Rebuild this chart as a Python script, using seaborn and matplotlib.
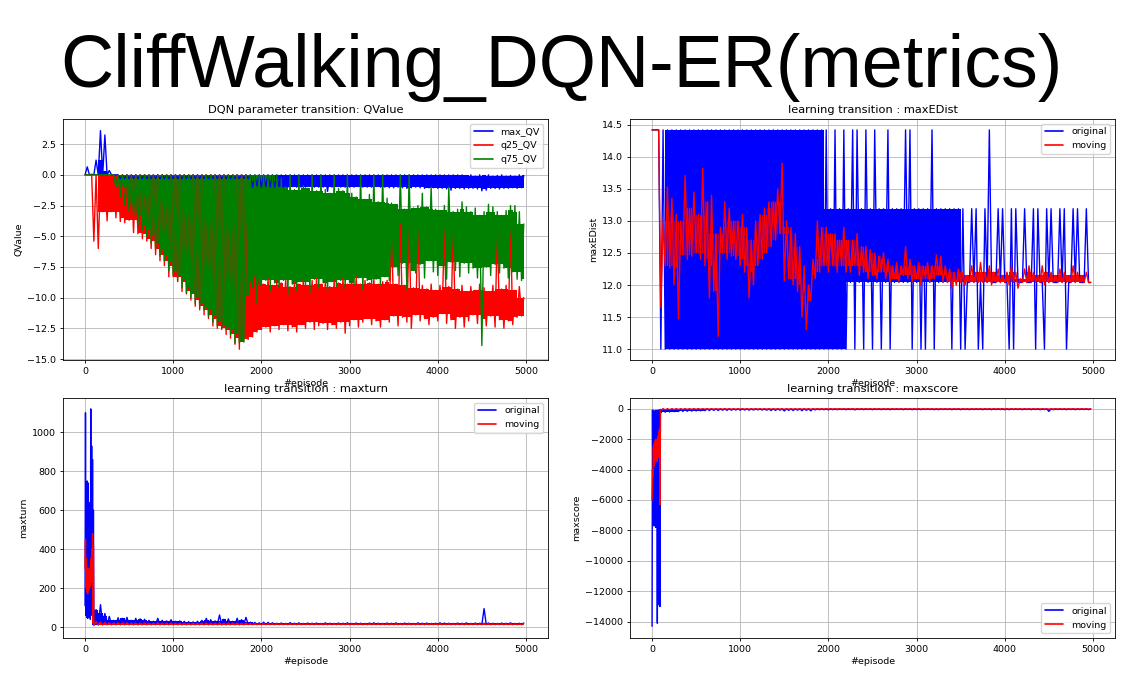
import numpy as np
import matplotlib
matplotlib.use("Agg")
import matplotlib.pyplot as plt
import seaborn as sns

OUT_PNG = "out.png"

# ---- QValue: per 50-episode bin, low / high of each series ----
qv_ep = np.arange(0, 5000, 50)
qv_max_lo = [0, 0, 0, 0, 0, 0, 0, 0, -0.3, -0.3,
             -0.3, -0.3, -0.3, -0.3, -0.3, -0.3, -0.3, -0.3, -0.3, -0.3,
             -0.3, -0.3, -0.3, -0.3, -0.3, -0.3, -0.3, -0.3, -0.3, -0.3,
             -0.3, -0.3, -0.3, -0.3, -0.3, -0.3, -0.3, -0.3, -1.0, -0.9,
             -1.0, -0.95, -1.0, -1.0, -0.95, -1.0, -1.0, -0.95, -1.0, -1.0,
             -1.0, -0.95, -1.0, -1.0, -1.0, -1.35, -1.0, -0.95, -1.0, -1.0,
             -1.0, -1.0, -0.95, -1.0, -1.0, -1.0, -0.95, -1.0, -1.0, -1.05,
             -1.05, -1.0, -1.05, -1.1, -1.05, -1.0, -1.05, -1.1, -1.05, -1.05,
             -1.1, -1.1, -1.15, -1.25, -1.1, -1.1, -1.15, -1.1, -1.1, -1.15,
             -1.3, -1.25, -1.1, -1.1, -1.15, -1.1, -1.1, -1.05, -1.1, -1.05]
qv_max_hi = [0.65, 0.05, 1.2, 3.6, 3.25, 0.35, 0, 0, 0, 0,
             0, 0, 0, 0, 0, 0, 0, 0, 0, 0,
             0, 0, 0, 0, 0, 0, 0, 0, 0, 0,
             0, 0, 0, 0, 0, 0, 0, 0, 0, 0,
             0, 0, 0, 0, 0, 0, 0, 0, 0, 0,
             0, 0, 0, 0, 0, 0, 0, 0, 0, 0,
             0, 0, 0, 0, 0, 0, 0, 0, 0, 0,
             0, 0, 0, 0, 0, 0, 0, 0, 0, 0,
             0, 0, 0, 0, 0, 0, -0.05, 0, -0.1, 0,
             -0.05, 0, -0.1, -0.05, 0, -0.1, -0.05, -0.1, 0, -0.05]
qv_q25_lo = [0, 0, -5.4, -6.0, -3.0, -3.75, -3.0, -3.5, -3.8, -3.9,
             -3.7, -4.7, -4.8, -5.2, -5.4, -6.0, -6.5, -7.0, -7.4, -8.3,
             -8.3, -8.7, -9.5, -9.7, -10.2, -10.7, -11.0, -11.4, -11.7, -12.3,
             -12.5, -12.6, -13.0, -13.3, -13.8, -14.2, -13.6, -13.4, -13.2, -12.8,
             -12.6, -12.4, -12.8, -12.3, -12.6, -12.2, -12.7, -12.4, -12.8, -12.2,
             -12.5, -12.0, -12.6, -12.3, -12.1, -12.6, -12.2, -12.5, -12.0, -12.9,
             -12.3, -11.8, -12.4, -12.0, -11.7, -12.2, -11.9, -12.4, -11.8, -12.0,
             -11.5, -12.3, -11.6, -12.0, -12.5, -11.4, -11.9, -11.7, -12.2, -11.6,
             -11.9, -11.3, -12.1, -11.8, -12.5, -11.6, -12.4, -11.9, -11.4, -12.1,
             -11.7, -12.3, -11.5, -12.4, -11.8, -12.5, -11.9, -12.2, -11.6, -11.5]
qv_q25_hi = [0, 0, 0, 0, 0, 0, 0, 0, 0, 0,
             0, 0, 0, 0, 0, 0, 0, 0, 0, 0,
             0, 0, 0, 0, 0, 0, 0, 0, 0, 0,
             0, 0, 0, 0, 0, 0, 0, -8.8, -8.3, -8.6,
             -8.9, -8.4, -9.0, -8.6, -8.8, -8.5, -9.1, -8.7, -8.9, -8.5,
             -9.0, -8.6, -8.4, -8.9, -8.7, -9.1, -8.6, -8.8, -8.4, -8.9,
             -8.7, -8.3, -8.9, -8.6, -8.8, -8.5, -8.9, -8.7, -8.6, -4.0,
             -8.9, -4.0, -9.0, -4.1, -9.2, -4.1, -9.0, -9.3, -8.9, -9.4,
             -9.0, -4.2, -9.1, -4.2, -9.3, -9.0, -9.5, -9.1, -9.4, -8.9,
             -9.2, -9.5, -9.0, -4.2, -9.3, -9.0, -4.2, -9.4, -9.1, -10.0]
qv_q75_lo = [0, 0, 0, 0, 0, 0, 0, -1.0, -1.8, -2.5,
             -3.0, -3.3, -4.1, -4.5, -5.0, -5.6, -6.0, -6.6, -7.0, -7.8,
             -8.2, -8.6, -9.2, -9.6, -10.0, -10.5, -10.8, -11.0, -11.5, -12.0,
             -12.3, -12.4, -12.6, -13.0, -13.7, -13.7, -13.6, -9.8, -9.2, -10.5,
             -9.0, -8.6, -9.5, -8.8, -9.2, -8.6, -9.8, -8.9, -9.4, -8.7,
             -9.0, -9.6, -8.5, -9.2, -8.8, -9.5, -8.7, -9.1, -8.6, -9.3,
             -8.8, -9.0, -8.4, -9.3, -8.6, -8.9, -8.5, -9.0, -8.3, -8.6,
             -7.5, -8.2, -7.2, -9.3, -7.8, -8.0, -7.3, -8.4, -7.0, -7.9,
             -8.2, -7.4, -8.5, -7.1, -7.8, -8.3, -7.2, -8.0, -7.6, -8.4,
             -13.9, -7.5, -8.2, -7.3, -8.0, -7.6, -8.4, -7.9, -8.5, -8.6]
qv_q75_hi = [0, 0, 0, 0, 0, 0, 0, 0, 0, 0,
             0, 0, 0, 0, 0, 0, 0, 0, 0, 0,
             0, 0, 0, 0, 0, 0, 0, 0, 0, 0,
             0, 0, 0, 0, 0, 0, 0, 0, 0, 0,
             0, 0, 0, 0, -0.3, -1.0, 0, -1.2, 0, -0.9,
             -1.1, 0, -1.3, 0, -1.2, -1.5, 0, -1.1, -1.3, 0,
             -1.5, -1.8, 0, -2.0, -1.6, 0, -2.2, 0, -1.9, -2.3,
             -2.4, 0, -2.8, 0, -2.7, -2.5, -1.5, -2.6, -1.0, -2.8,
             -2.9, -2.5, -1.0, -3.0, -2.8, -2.2, -2.6, -3.0, -2.7, -3.3,
             -3.0, -2.4, -2.6, -3.0, -3.3, -2.9, -2.5, -2.5, -3.0, -4.0]

# ---- maxEDist: per 50-episode bin ----
ed_ep = np.arange(0, 5000, 50)
ed_org_lo = [14.42, 14.42, 11.0, 11.0, 11.0, 11.0, 11.0, 11.0, 11.0, 11.0,
             11.0, 11.0, 11.0, 11.0, 11.0, 11.0, 11.0, 11.0, 11.0, 11.0,
             11.0, 11.0, 11.0, 11.0, 11.0, 11.0, 11.0, 11.0, 11.0, 11.0,
             11.0, 11.0, 11.0, 11.0, 11.0, 11.0, 11.0, 11.0, 11.0, 11.0,
             11.0, 11.0, 11.0, 11.0, 11.0, 12.04, 11.0, 12.04, 11.0, 12.04,
             11.0, 12.04, 11.0, 12.04, 11.0, 12.04, 12.04, 12.04, 12.04, 11.0,
             12.04, 11.0, 11.0, 12.04, 11.0, 12.04, 12.04, 12.04, 11.0, 12.04,
             11.0, 11.0, 12.04, 12.04, 11.0, 11.0, 12.04, 12.04, 12.04, 12.04,
             12.04, 11.0, 11.0, 12.04, 12.04, 12.04, 12.04, 11.0, 12.04, 11.0,
             12.04, 12.04, 12.04, 12.04, 11.0, 12.04, 12.04, 12.04, 12.04, 12.04]
ed_org_hi = [14.42, 14.42, 14.42, 14.42, 14.42, 14.42, 14.42, 14.42, 14.42, 14.42,
             14.42, 14.42, 14.42, 14.42, 14.42, 14.42, 14.42, 14.42, 14.42, 14.42,
             14.42, 14.42, 14.42, 14.42, 14.42, 14.42, 14.42, 14.42, 14.42, 14.42,
             14.42, 14.42, 14.42, 14.42, 14.42, 14.42, 14.42, 14.42, 14.42, 14.42,
             13.19, 14.42, 13.19, 14.42, 13.19, 14.42, 14.42, 13.19, 14.42, 13.19,
             14.42, 13.19, 13.19, 14.42, 13.19, 13.19, 13.19, 14.42, 14.42, 13.19,
             13.19, 13.19, 13.19, 14.42, 13.19, 13.19, 13.19, 13.19, 13.19, 13.19,
             13.19, 12.04, 13.19, 13.19, 12.04, 13.19, 14.42, 12.04, 13.19, 13.19,
             12.04, 13.19, 13.19, 12.04, 13.19, 12.04, 13.19, 13.19, 12.04, 13.19,
             13.19, 12.04, 13.19, 13.19, 12.04, 13.19, 13.19, 12.04, 13.19, 12.04]
ed_mov_lo = [14.42, 14.42, 11.65, 12.3, 12.27, 12.0, 11.47, 12.47, 12.4, 12.45,
             12.5, 12.4, 12.3, 11.8, 11.9, 11.2, 12.5, 12.4, 12.45, 12.4,
             12.3, 12.2, 11.8, 12.0, 12.3, 12.4, 12.5, 12.6, 12.7, 12.8,
             12.06, 12.1, 12.0, 11.9, 11.5, 11.3, 11.75, 12.1, 12.2, 12.3,
             12.2, 12.3, 12.2, 12.3, 12.2, 12.2, 12.3, 12.15, 12.2, 12.1,
             12.15, 12.1, 12.2, 12.1, 12.05, 12.1, 12.05, 12.15, 12.1, 12.05,
             12.1, 12.0, 12.1, 12.05, 12.1, 12.15, 12.05, 12.04, 11.95, 12.0,
             12.04, 12.0, 12.04, 12.04, 12.04, 12.04, 12.04, 12.0, 12.04, 12.04,
             12.04, 12.0, 12.04, 11.95, 12.04, 12.04, 12.04, 12.04, 12.04, 12.0,
             12.04, 12.04, 12.04, 12.04, 12.04, 12.04, 12.04, 12.04, 12.04, 12.04]
ed_mov_hi = [14.42, 14.42, 13.0, 13.53, 13.35, 13.1, 13.0, 13.71, 13.2, 13.45,
             13.1, 13.82, 13.3, 13.4, 12.8, 12.9, 13.3, 13.2, 13.0, 13.0,
             13.1, 12.9, 12.7, 13.0, 13.1, 13.2, 13.3, 13.3, 13.5, 13.9,
             13.0, 12.9, 12.8, 12.6, 12.3, 12.0, 12.4, 13.0, 12.9, 12.9,
             12.8, 12.8, 12.7, 12.9, 12.7, 12.7, 12.8, 12.6, 12.6, 12.55,
             12.5, 12.45, 12.5, 12.4, 12.3, 12.35, 12.3, 12.6, 12.4, 12.3,
             12.35, 12.3, 12.35, 12.3, 12.47, 12.45, 12.3, 12.25, 12.2, 12.25,
             12.2, 12.15, 12.3, 12.2, 12.35, 12.2, 12.3, 12.2, 12.25, 12.15,
             12.2, 12.3, 12.2, 12.1, 12.25, 12.3, 12.2, 12.15, 12.3, 12.2,
             12.2, 12.15, 12.25, 12.2, 12.15, 12.3, 12.2, 12.15, 12.2, 12.04]

# ---- maxturn / maxscore: 10-episode bins up to 100, then 50-episode bins ----
early_ep = np.arange(0, 100, 10)
late_ep = np.arange(100, 5000, 50)

turn_org_lo_early = [110, 60, 50, 45, 60, 50, 40, 70, 60, 13]
turn_org_hi_early = [1100, 640, 750, 740, 560, 640, 1120, 930, 860, 600]
turn_mov_lo_early = [300, 200, 180, 170, 190, 200, 210, 230, 250, 20]
turn_mov_hi_early = [450, 350, 300, 280, 300, 290, 350, 400, 480, 420]
turn_org_lo_late = [13, 13, 13, 13, 13, 13, 13, 13, 13, 13,
                    13, 13, 13, 13, 13, 13, 13, 13, 13, 13,
                    13, 13, 13, 13, 13, 13, 13, 13, 13, 13,
                    13, 13, 13, 13, 13, 13, 13, 13, 13, 13,
                    13, 13, 13, 13, 13, 13, 13, 13, 13, 13,
                    13, 13, 13, 13, 13, 13, 13, 13, 13, 13,
                    13, 13, 13, 13, 13, 13, 13, 13, 13, 13,
                    13, 13, 13, 13, 13, 13, 13, 13, 13, 13,
                    13, 13, 13, 13, 13, 13, 13, 13, 13, 13,
                    13, 13, 13, 13, 13, 13, 13, 13]
turn_org_hi_late = [90, 115, 70, 55, 35, 48, 45, 50, 35, 45,
                    42, 40, 35, 30, 45, 35, 32, 38, 30, 32,
                    30, 28, 27, 30, 35, 45, 38, 32, 62, 40,
                    42, 30, 45, 38, 50, 25, 24, 22, 25, 24,
                    22, 20, 21, 19, 23, 20, 22, 19, 21, 20,
                    21, 19, 22, 20, 19, 21, 20, 22, 19, 21,
                    20, 19, 21, 22, 20, 19, 21, 20, 22, 19,
                    21, 20, 19, 22, 20, 21, 19, 20, 22, 21,
                    20, 19, 21, 20, 22, 19, 21, 20, 95, 21,
                    20, 19, 21, 20, 22, 19, 20, 21]
turn_mov_lo_late = [8, 10, 11, 12, 12, 12, 12, 12, 12, 12,
                    12, 12, 12, 12, 12, 12, 12, 12, 12, 12,
                    12, 12, 12, 12, 12, 12, 12, 12, 12, 12,
                    12, 12, 12, 12, 12, 13, 13, 13, 13, 13,
                    13, 13, 13, 13, 13, 13, 13, 13, 13, 13,
                    13, 13, 13, 13, 13, 13, 13, 13, 13, 13,
                    13, 13, 13, 13, 13, 13, 13, 13, 13, 13,
                    13, 13, 13, 13, 13, 13, 13, 13, 13, 13,
                    13, 13, 13, 13, 13, 13, 13, 13, 13, 13,
                    13, 13, 13, 13, 13, 13, 13, 13]
turn_mov_hi_late = [28, 25, 24, 22, 21, 22, 21, 22, 20, 21,
                    20, 21, 20, 20, 21, 20, 20, 21, 20, 20,
                    20, 19, 20, 20, 21, 21, 20, 20, 22, 20,
                    21, 20, 21, 20, 21, 18, 18, 17, 18, 18,
                    17, 18, 17, 17, 18, 17, 18, 17, 17, 18,
                    17, 17, 18, 17, 17, 18, 17, 18, 17, 17,
                    18, 17, 17, 18, 17, 17, 18, 17, 18, 17,
                    17, 18, 17, 18, 17, 18, 17, 17, 18, 17,
                    18, 17, 17, 18, 17, 17, 18, 17, 20, 18,
                    17, 17, 18, 17, 18, 17, 17, 18]

score_org_lo_early = [-14300, -7600, -7700, -7500, -7800, -7700, -14100, -7800, -12900, -13000]
score_org_hi_early = [-100, -100, -150, -200, -100, -300, -100, -100, -100, -50]
score_mov_lo_early = [-6000, -4500, -3800, -3600, -3400, -3300, -3500, -3200, -3000, -6300]
score_mov_hi_early = [-4000, -2500, -2300, -2100, -2000, -2200, -1800, -1500, -1300, -100]
score_org_lo_late = [-260, -240, -220, -200, -190, -180, -170, -160, -150, -140,
                     -130, -120, -110, -120, -100, -110, -100, -90, -100, -90,
                     -100, -90, -80, -90, -100, -120, -110, -100, -150, -110,
                     -120, -100, -130, -110, -140, -80, -70, -70, -80, -70,
                     -70, -60, -70, -60, -80, -60, -70, -60, -70, -60,
                     -70, -60, -70, -60, -60, -70, -60, -70, -60, -70,
                     -60, -60, -70, -70, -60, -60, -70, -60, -70, -60,
                     -70, -60, -60, -70, -60, -70, -60, -60, -70, -70,
                     -60, -60, -70, -60, -70, -60, -70, -60, -180, -70,
                     -60, -60, -70, -60, -70, -60, -60, -70]
score_org_hi_late = [-13, -13, -13, -13, -13, -13, -13, -13, -13, -13,
                     -13, -13, -13, -13, -13, -13, -13, -13, -13, -13,
                     -13, -13, -13, -13, -13, -13, -13, -13, -13, -13,
                     -13, -13, -13, -13, -13, -13, -13, -13, -13, -13,
                     -13, -13, -13, -13, -13, -13, -13, -13, -13, -13,
                     -13, -13, -13, -13, -13, -13, -13, -13, -13, -13,
                     -13, -13, -13, -13, -13, -13, -13, -13, -13, -13,
                     -13, -13, -13, -13, -13, -13, -13, -13, -13, -13,
                     -13, -13, -13, -13, -13, -13, -13, -13, -13, -13,
                     -13, -13, -13, -13, -13, -13, -13, -13]
score_mov_lo_late = [-90, -70, -60, -50, -45, -40, -40, -35, -35, -35,
                     -30, -30, -30, -30, -30, -30, -30, -30, -30, -30,
                     -30, -30, -30, -30, -30, -30, -30, -30, -35, -30,
                     -30, -30, -30, -30, -35, -25, -25, -25, -25, -25,
                     -25, -25, -25, -25, -25, -25, -25, -25, -25, -25,
                     -25, -25, -25, -25, -25, -25, -25, -25, -25, -25,
                     -25, -25, -25, -25, -25, -25, -25, -25, -25, -25,
                     -25, -25, -25, -25, -25, -25, -25, -25, -25, -25,
                     -25, -25, -25, -25, -25, -25, -25, -25, -30, -25,
                     -25, -25, -25, -25, -25, -25, -25, -25]
score_mov_hi_late = [-15, -15, -15, -15, -15, -15, -15, -15, -15, -15,
                     -15, -15, -15, -15, -15, -15, -15, -15, -15, -15,
                     -15, -15, -15, -15, -15, -15, -15, -15, -15, -15,
                     -15, -15, -15, -15, -15, -15, -15, -15, -15, -15,
                     -15, -15, -15, -15, -15, -15, -15, -15, -15, -15,
                     -15, -15, -15, -15, -15, -15, -15, -15, -15, -15,
                     -15, -15, -15, -15, -15, -15, -15, -15, -15, -15,
                     -15, -15, -15, -15, -15, -15, -15, -15, -15, -15,
                     -15, -15, -15, -15, -15, -15, -15, -15, -15, -15,
                     -15, -15, -15, -15, -15, -15, -15, -15]


def core(lo, hi):
    # part of each bin also reached by both neighbours (isolated spikes left to the line)
    lo, hi = np.asarray(lo, float), np.asarray(hi, float)
    c_lo = np.maximum.reduce([lo, np.r_[lo[0], lo[:-1]], np.r_[lo[1:], lo[-1]]])
    c_hi = np.minimum.reduce([hi, np.r_[hi[0], hi[:-1]], np.r_[hi[1:], hi[-1]]])
    return c_lo, np.maximum(c_hi, c_lo)


def trace(ax, ep, half, lo, hi, color, label):
    ep = np.asarray(ep)
    half = np.broadcast_to(half, ep.shape)
    c_lo, c_hi = core(lo, hi)
    ax.fill_between(ep + half, c_lo, c_hi, step="mid", color=color, linewidth=0)
    x = np.column_stack([ep, ep + half]).ravel()
    y = np.column_stack([lo, hi]).ravel()
    sns.lineplot(x=x, y=y, color=color, label=label, ax=ax,
                 sort=False, estimator=None, linewidth=1.0)


def trace2(ax, lo_e, hi_e, lo_l, hi_l, color, label):
    ep = np.concatenate([early_ep, late_ep])
    half = np.r_[np.full(len(early_ep), 5), np.full(len(late_ep), 25)]
    trace(ax, ep, half, np.r_[lo_e, lo_l], np.r_[hi_e, hi_l], color, label)


FS = 6.8
sns.set_theme(style="ticks", rc={
    "axes.edgecolor": "black", "axes.linewidth": 0.6,
    "text.color": "black", "axes.labelcolor": "black",
    "xtick.color": "black", "ytick.color": "black",
    "xtick.labelsize": FS, "ytick.labelsize": FS,
    "axes.labelsize": FS, "axes.titlesize": 8.2,
    "legend.fontsize": FS,
    "xtick.major.size": 2.4, "ytick.major.size": 2.4,
    "xtick.major.width": 0.6, "ytick.major.width": 0.6,
    "xtick.major.pad": 2.4, "ytick.major.pad": 2.4,
    "axes.labelpad": 2.7, "axes.titlepad": 4.0,
})

W, H = 1136, 682
fig = plt.figure(figsize=(W / 100, H / 100), dpi=100)


def mk_axes(x0, y0, x1, y1):
    return fig.add_axes([x0 / W, 1 - y1 / H, (x1 - x0) / W, (y1 - y0) / H])


ax_q = mk_axes(63, 119, 548, 360)
ax_d = mk_axes(630, 119, 1115, 360)
ax_t = mk_axes(63, 398, 548, 638)
ax_s = mk_axes(630, 398, 1115, 638)

trace(ax_q, qv_ep, 25, qv_max_lo, qv_max_hi, "blue", "max_QV")
trace(ax_q, qv_ep, 25, qv_q25_lo, qv_q25_hi, "red", "q25_QV")
trace(ax_q, qv_ep, 25, qv_q75_lo, qv_q75_hi, "green", "q75_QV")

trace(ax_d, ed_ep, 25, ed_org_lo, ed_org_hi, "blue", "original")
trace(ax_d, ed_ep, 25, ed_mov_lo, ed_mov_hi, "red", "moving")

trace2(ax_t, turn_org_lo_early, turn_org_hi_early, turn_org_lo_late, turn_org_hi_late, "blue", "original")
trace2(ax_t, turn_mov_lo_early, turn_mov_hi_early, turn_mov_lo_late, turn_mov_hi_late, "red", "moving")

trace2(ax_s, score_org_lo_early, score_org_hi_early, score_org_lo_late, score_org_hi_late, "blue", "original")
trace2(ax_s, score_mov_lo_early, score_mov_hi_early, score_mov_lo_late, score_mov_hi_late, "red", "moving")

setup = [
    (ax_q, "DQN parameter transition: QValue", "QValue", (-15.08, 4.55), np.arange(-15, 3, 2.5), "upper right"),
    (ax_d, "learning transition : maxEDist", "maxEDist", (10.83, 14.59), np.arange(11, 14.6, 0.5), "upper right"),
    (ax_t, "learning transition : maxturn", "maxturn", (-56, 1176), np.arange(0, 1001, 200), "upper right"),
    (ax_s, "learning transition : maxscore", "maxscore", (-15070, 700), np.arange(-14000, 1, 2000), "lower right"),
]
for ax, title, ylab, ylim, yt, loc in setup:
    ax.set_xlim(-250, 5250)
    ax.set_ylim(*ylim)
    ax.set_xticks(range(0, 5001, 1000))
    ax.set_yticks(yt)
    ax.grid(True, color="#b0b0b0", linewidth=0.55)
    ax.set_axisbelow(True)
    ax.set_title(title)
    ax.set_xlabel("#episode")
    ax.set_ylabel(ylab)
    for s in ax.spines.values():
        s.set_visible(True)
    leg = ax.legend(loc=loc, frameon=True, fancybox=True, framealpha=0.8,
                    edgecolor="#cccccc", handlelength=2.0, borderpad=0.4,
                    labelspacing=0.5)
    for h in leg.get_lines():
        h.set_linewidth(1.2)

fig.text(561 / W, 1 - 87 / H, "CliffWalking_DQN-ER(metrics)",
         ha="center", va="baseline", fontsize=53, color="black",
         family=["Liberation Sans", "DejaVu Sans"])

fig.savefig(OUT_PNG, dpi=100)
print("save", OUT_PNG)
